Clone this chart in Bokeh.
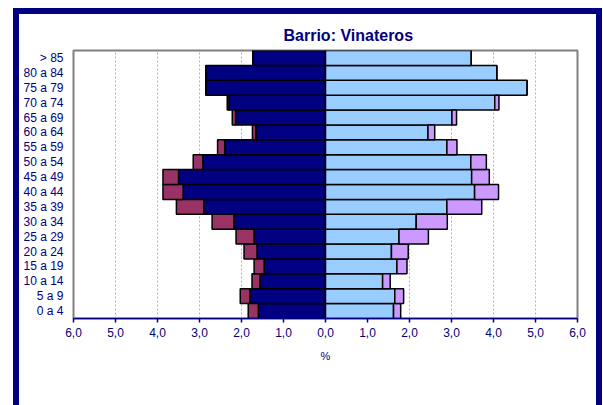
from bokeh.plotting import figure
from bokeh.models import FactorRange, ColumnDataSource, CustomJSTickFormatter, FixedTicker
from bokeh.embed import file_html
from bokeh.resources import INLINE

# ---- data (percent of population) ----
age_groups = ["0 a 4", "5 a 9", "10 a 14", "15 a 19", "20 a 24", "25 a 29",
              "30 a 34", "35 a 39", "40 a 44", "45 a 49", "50 a 54", "55 a 59",
              "60 a 64", "65 a 69", "70 a 74", "75 a 79", "80 a 84", "> 85"]
men_native = [1.60, 1.80, 1.56, 1.46, 1.63, 1.70, 2.18, 2.90, 3.39, 3.50,
              2.92, 2.40, 1.66, 2.14, 2.30, 2.85, 2.85, 1.73]
men_foreign = [0.24, 0.23, 0.19, 0.24, 0.31, 0.43, 0.52, 0.65, 0.48, 0.37,
               0.23, 0.17, 0.08, 0.08, 0.04, 0.00, 0.00, 0.00]
women_native = [1.62, 1.65, 1.36, 1.70, 1.57, 1.75, 2.16, 2.89, 3.55, 3.48,
                3.46, 2.89, 2.44, 3.01, 4.03, 4.80, 4.08, 3.47]
women_foreign = [0.17, 0.21, 0.18, 0.24, 0.40, 0.70, 0.74, 0.83, 0.57, 0.42,
                 0.37, 0.24, 0.16, 0.11, 0.10, 0.00, 0.00, 0.00]
x_ticks = [-6, -5, -4, -3, -2, -1, 0, 1, 2, 3, 4, 5, 6]

src = ColumnDataSource(dict(
    age=age_groups,
    m_in=[-v for v in men_native],
    m_out=[-(a + b) for a, b in zip(men_native, men_foreign)],
    w_in=women_native,
    w_out=[a + b for a, b in zip(women_native, women_foreign)],
))

NAVY = "#000080"
FONT = "Liberation Sans"

frame_shadow = ", ".join([
    "inset 13px 0 0 0 #ffffff",
    "inset 0 8px 0 0 #ffffff",
    "inset -1px 0 0 0 #ffffff",
    "inset 19px 0 0 0 #000080",
    "inset 0 14px 0 0 #000080",
    "inset -7px 0 0 0 #000080",
])

p = figure(y_range=FactorRange(factors=age_groups), x_range=(-6, 6),
           width=603, height=405, output_backend="svg", toolbar_location=None,
           min_border_left=73, min_border_right=26, min_border_top=50,
           min_border_bottom=87, background_fill_color="white",
           border_fill_color=None,
           styles={"box-shadow": frame_shadow, "background-color": "#ffffff"})

bar_kw = dict(height=1.0, line_color="black", line_width=1.5, source=src, y="age")
p.hbar(left=0, right="m_in", fill_color="#000080", **bar_kw)
p.hbar(left="m_in", right="m_out", fill_color="#993366", **bar_kw)
p.hbar(left=0, right="w_in", fill_color="#99CCFF", **bar_kw)
p.hbar(left="w_in", right="w_out", fill_color="#CC99FF", **bar_kw)

p.outline_line_color = "#808080"
p.outline_line_width = 2

# title
p.title.text = "Barrio: Vinateros"
p.title.align = "left"
p.title.offset = 210
p.title.standoff = 13
p.title.text_font = FONT
p.title.text_font_size = "16px"
p.title.text_font_style = "bold"
p.title.text_color = NAVY

# y axis
p.yaxis.axis_line_color = None
p.yaxis.major_tick_line_color = None
p.yaxis.minor_tick_line_color = None
p.yaxis.major_tick_out = 0
p.yaxis.major_tick_in = 0
p.yaxis.major_label_standoff = 10
p.yaxis.major_label_text_color = NAVY
p.yaxis.major_label_text_font = FONT
p.yaxis.major_label_text_font_size = "12px"

# x axis
p.xaxis.ticker = FixedTicker(ticks=x_ticks)
p.xaxis.formatter = CustomJSTickFormatter(
    code="return Math.abs(tick).toFixed(1).replace('.', ',');")
p.xaxis.axis_line_color = NAVY
p.xaxis.axis_line_width = 1.5
p.xaxis.major_tick_line_color = NAVY
p.xaxis.major_tick_line_width = 1.5
p.xaxis.major_tick_out = 4
p.xaxis.major_tick_in = 0
p.xaxis.minor_tick_line_color = None
p.xaxis.major_label_text_color = NAVY
p.xaxis.major_label_text_font = FONT
p.xaxis.major_label_text_font_size = "12px"
p.xaxis.axis_label = "%"
p.xaxis.axis_label_text_color = NAVY
p.xaxis.axis_label_text_font = FONT
p.xaxis.axis_label_text_font_style = "normal"
p.xaxis.axis_label_text_font_size = "11px"
p.xaxis.axis_label_standoff = 10

p.ygrid.grid_line_color = None
p.xgrid.grid_line_color = "#b0b0b0"
p.xgrid.grid_line_dash = "2 2"
p.xgrid.grid_line_width = 1

open("out.html", "w").write(file_html(p, INLINE))
